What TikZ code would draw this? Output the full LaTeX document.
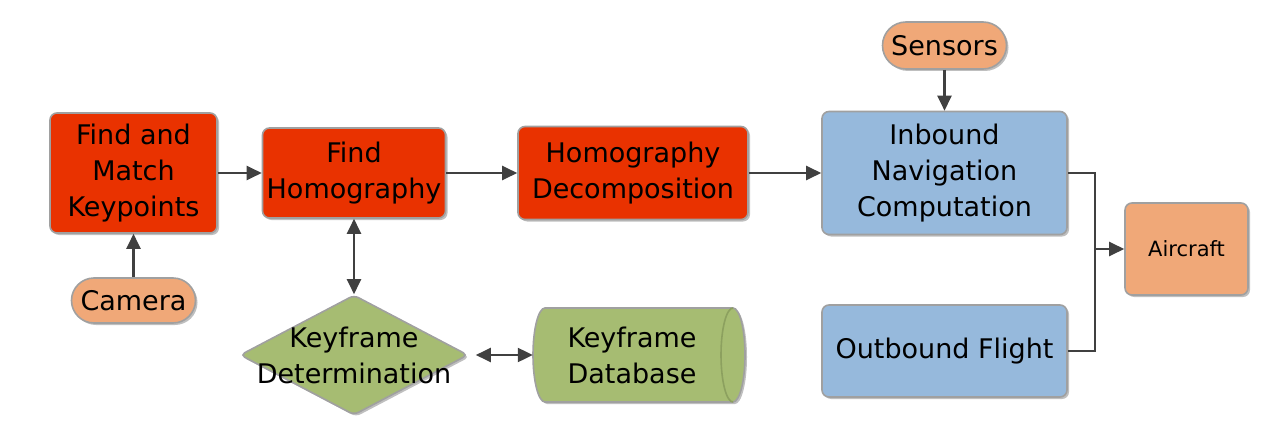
\documentclass[tikz,border=0pt]{standalone}
\usepackage{fontspec}
\setmainfont{DejaVu Sans}
\usetikzlibrary{arrows.meta,shapes.geometric,shapes.misc,shadows}
\definecolor{boxred}{RGB}{233,50,0}
\definecolor{boxorange}{RGB}{240,168,120}
\definecolor{boxblue}{RGB}{150,185,220}
\definecolor{boxgreen}{RGB}{166,188,114}
\definecolor{darkgreen}{RGB}{140,160,95}
\definecolor{edgegray}{RGB}{160,160,160}
\definecolor{arrowgray}{RGB}{64,64,64}
\tikzset{
  shade1/.style={drop shadow={opacity=0.25, shadow xshift=2pt, shadow yshift=-2pt, fill=black}},
  base/.style={draw=edgegray, line width=1.6pt, align=center, inner sep=0pt,
    font=\fontsize{27}{36}\selectfont, shade1},
  redbox/.style={base, rectangle, rounded corners=7pt, fill=boxred},
  bluebox/.style={base, rectangle, rounded corners=7pt, fill=boxblue},
  orangebox/.style={base, rectangle, rounded corners=7pt, fill=boxorange},
  pill/.style={base, rounded rectangle, fill=boxorange},
  conn/.style={draw=arrowgray, line width=2.2pt, -{Triangle[length=15pt,width=14pt]}},
  biconn/.style={draw=arrowgray, line width=2.2pt, {Triangle[length=15pt,width=14pt]}-{Triangle[length=15pt,width=14pt]}},
  plain/.style={draw=arrowgray, line width=2.2pt}
}
\begin{document}
\begin{tikzpicture}[x=1pt,y=-1pt]
\useasboundingbox (0,0) rectangle (1284,441);

\node[redbox, minimum width=167pt, minimum height=120pt] (kp) at (133.5,173) {Find and\\Match\\Keypoints};
\node[redbox, minimum width=183pt, minimum height=90pt] (fh) at (354,173) {Find\\Homography};
\node[redbox, minimum width=230pt, minimum height=93pt] (hd) at (633,173) {Homography\\Decomposition};
\node[bluebox, minimum width=245pt, minimum height=123pt] (inb) at (944.5,173) {Inbound\\Navigation\\Computation};
\node[bluebox, minimum width=245pt, minimum height=92pt] (outb) at (944.5,351) {Outbound Flight};
\node[orangebox, minimum width=123pt, minimum height=92pt, font=\fontsize{21}{26}\selectfont] (ac) at (1186.5,249) {Aircraft};
\node[pill, minimum width=124pt, minimum height=47pt] (sen) at (944.5,45.5) {Sensors};
\node[pill, minimum width=124pt, minimum height=45pt] (cam) at (133.5,300.5) {Camera};

\node[base, diamond, fill=boxgreen, minimum width=228pt, minimum height=120pt, rounded corners=5pt] (kd) at (354,355) {};
\node[align=center, font=\fontsize{27}{36}\selectfont] (kdt) at (kd.center) {Keyframe\\Determination};

% cylinder (database)
\path[fill=boxgreen, draw=edgegray, line width=1.6pt, shade1]
  (733,308) -- (545,308) arc[start angle=270, end angle=90, x radius=12, y radius=47]
  -- (733,402) arc[start angle=90, end angle=-90, x radius=12, y radius=47] -- cycle;
\draw[darkgreen, line width=1.6pt] (733,308) arc[start angle=270, end angle=90, x radius=12, y radius=47];
\node[inner sep=0pt, minimum width=212pt, minimum height=94pt] (db) at (639,355) {};
\node[align=center, font=\fontsize{27}{36}\selectfont] (dbt) at (632,355) {Keyframe\\Database};

\coordinate (j) at (1095,249);

\draw[conn] (kp.east) -- (fh.west);
\draw[conn] (fh.east) -- (hd.west);
\draw[conn] (hd.east) -- (inb.west);
\draw[conn] (cam.north) -- (kp.south);
\draw[biconn] (fh.south) -- (kd.north);
\draw[biconn] ([xshift=7pt]kd.east) -- (db.west);
\draw[conn] (sen.south) -- (inb.north);
\draw[plain] (inb.east) -| (j);
\draw[plain] (outb.east) -| (j);
\draw[conn] (j) -- (ac.west);
\end{tikzpicture}
\end{document}
